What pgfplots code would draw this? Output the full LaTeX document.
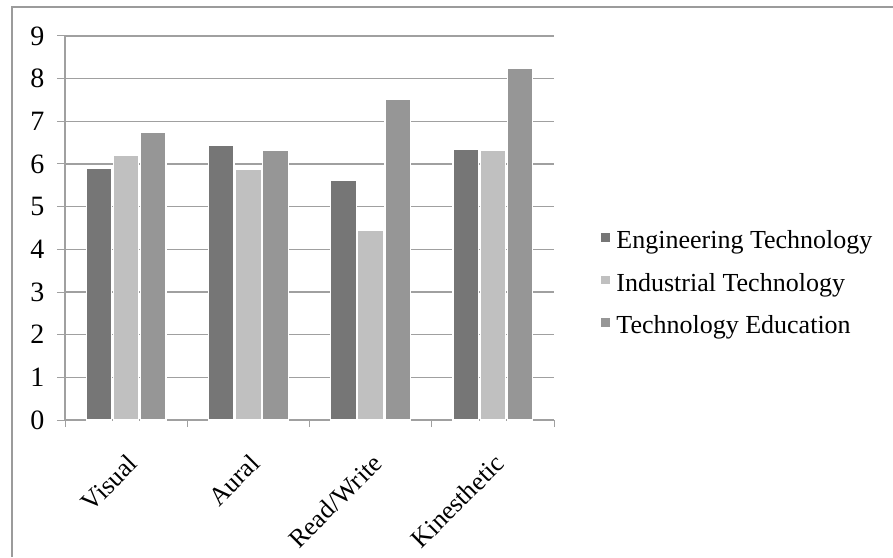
\documentclass[border=0pt]{standalone}
\usepackage{fontspec}
\setmainfont{Liberation Serif}
\usepackage{pgfplots}
\pgfplotsset{compat=1.18}

\definecolor{engc}{RGB}{118,118,118}
\definecolor{indc}{RGB}{192,192,192}
\definecolor{tedc}{RGB}{150,150,150}
\definecolor{gridc}{RGB}{160,160,160}
\definecolor{framec}{RGB}{155,155,155}

\begin{document}
\begin{tikzpicture}[x=1pt,y=1pt]
\useasboundingbox (0,0) rectangle (893,557);
% chart frame (only top and left edges are in view)
\draw[framec, line width=1.5pt] (12,0) -- (12,550) -- (893,550);

\begin{axis}[
at={(65pt,137pt)}, anchor=south west,
scale only axis,
width=489pt, height=384pt,
ybar=1.6pt, bar width=25.5pt,
xmin=-0.5, xmax=3.5,
ymin=0, ymax=9,
ytick={0,1,...,9},
xtick={0,1,2,3},
xticklabels={Visual,Aural,Read/Write,Kinesthetic},
minor xtick={-0.5,0.5,1.5,2.5,3.5},
major x tick style={draw=none},
tick align=outside,
tick pos=left,
major tick length=8pt, minor tick length=7pt,
every tick/.style={gridc, line width=1pt},
ymajorgrids,
grid style={gridc, line width=1.3pt},
axis line style={gridc, line width=1.3pt},
axis x line*=bottom, axis y line*=left,
/pgf/number format/assume math mode=true,
yticklabel style={font=\fontsize{28}{32}\selectfont, xshift=-9pt},
xticklabel style={font=\fontsize{26}{30}\selectfont, rotate=45, anchor=north east, xshift=-14pt, yshift=-14pt},
legend style={draw=none, fill=none, at={(1.088,0.357)}, anchor=west,
  font=\fontsize{26}{30}\selectfont, row sep=21pt,
  nodes={inner sep=1pt}},
legend cell align=left,
legend image code/.code={\fill[#1] (-4pt,-2pt) rectangle (6pt,8pt); \path (10pt,0pt);},
]
\addplot[fill=engc, draw=white, line width=1.2pt] coordinates {(0,5.90) (1,6.44) (2,5.62) (3,6.34)};
\addplot[fill=indc, draw=white, line width=1.2pt] coordinates {(0,6.21) (1,5.88) (2,4.44) (3,6.32)};
\addplot[fill=tedc, draw=white, line width=1.2pt] coordinates {(0,6.74) (1,6.33) (2,7.52) (3,8.23)};
\legend{Engineering Technology, Industrial Technology, Technology Education}
\end{axis}
\end{tikzpicture}
\end{document}
